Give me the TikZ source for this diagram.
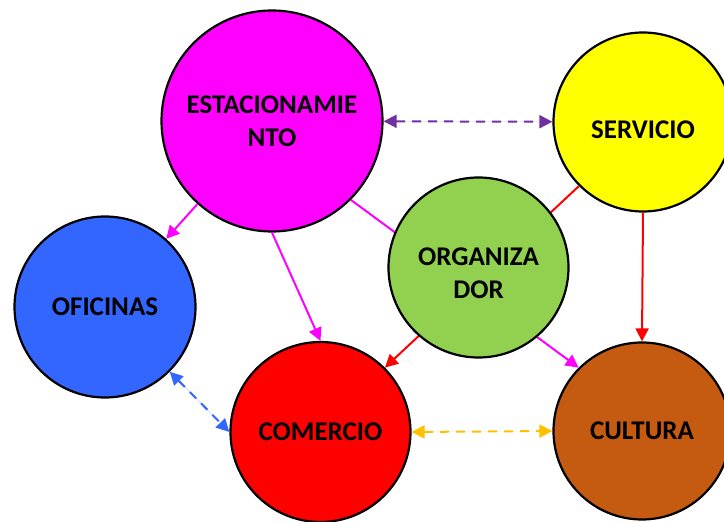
\documentclass[tikz,border=0pt]{standalone}
\usepackage{fontspec}
\setmainfont{Carlito}
\usepackage{tikz}
\usetikzlibrary{arrows.meta, positioning}
\definecolor{estfill}{HTML}{FF00FF}
\definecolor{servfill}{HTML}{FFFF00}
\definecolor{orgfill}{HTML}{92D050}
\definecolor{offill}{HTML}{3366FF}
\definecolor{comfill}{HTML}{FF0000}
\definecolor{culfill}{HTML}{C55A11}
\definecolor{linkpurple}{HTML}{7030A0}
\definecolor{linkorange}{HTML}{FFC000}
\newcommand{\dropped}[1]{\raisebox{-8pt}[\height][\depth]{#1}}
\tikzset{
  bubble/.style  = {circle, draw=black, line width=2.2pt, inner sep=0pt,
                    font=\fontsize{27}{33}\selectfont\bfseries, align=center,
                    text=black},
  link/.style    = {-{Triangle[length=13pt, width=13pt]}, line width=2pt},
  twolink/.style = {{Triangle[length=13pt, width=13pt]}-{Triangle[length=13pt, width=13pt]},
                    line width=2pt, dash pattern=on 9pt off 7pt},
}
\begin{document}
\begin{tikzpicture}[x=1pt, y=1pt]
        \useasboundingbox (0,0) rectangle (724,522);
        \node[bubble, fill=estfill, minimum size=221pt] (estac) at (272,401) {ESTACIONAMIE\\NTO};
        \node[bubble, fill=servfill, minimum size=179pt] (serv) at (643,400) {\dropped{SERVICIO}};
        \node[bubble, fill=offill, minimum size=181pt] (ofic) at (105,215) {OFICINAS};
        \node[bubble, fill=comfill, minimum size=180pt] (comer) at (320.5,90) {COMERCIO};
        \node[bubble, fill=culfill, minimum size=177pt] (cult) at (642,91) {CULTURA};
        \draw[twolink, draw=linkpurple, fill=linkpurple] (estac) -- (serv);
        \draw[link, draw=estfill, fill=estfill] (estac) -- (ofic);
        \draw[link, draw=estfill, fill=estfill] (estac.south) -- (comer.north);
        \draw[link, draw=estfill, fill=estfill] (estac.south east) -- (cult.north west);
        \draw[link, draw=comfill, fill=comfill] (serv.south west) -- (comer.north east);
        \draw[link, draw=comfill, fill=comfill] (serv.south) -- (cult.north);
        \draw[twolink, draw=offill, fill=offill] (ofic.south east) -- (comer.west);
        \draw[twolink, draw=linkorange, fill=linkorange] (comer.east) -- (cult.west);
        % drawn last so the two crossing links pass behind it
        \node[bubble, fill=orgfill, minimum size=180pt] (orga) at (478.5,254.5)
            {\dropped{\begin{tabular}{@{}c@{}}ORGANIZA\\DOR\end{tabular}}};
    \end{tikzpicture}
\end{document}
